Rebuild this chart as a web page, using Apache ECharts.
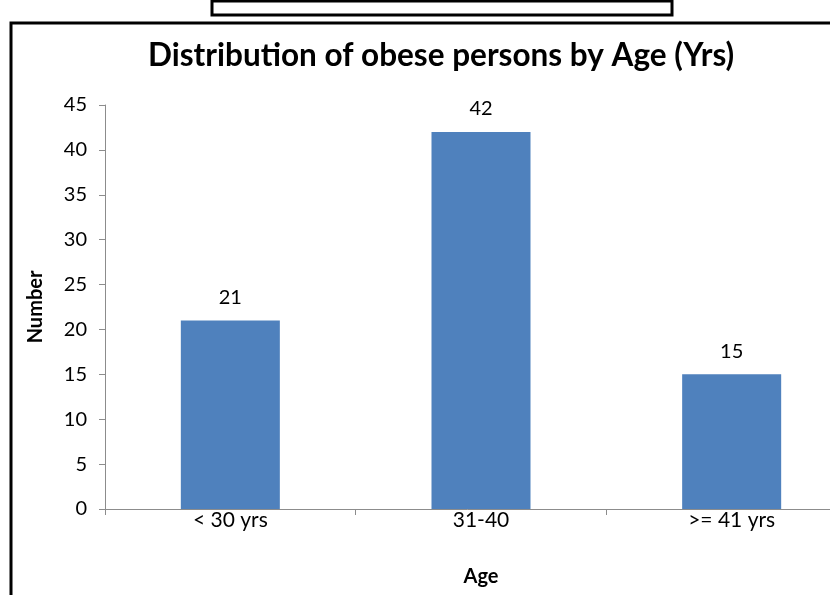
<!DOCTYPE html>
<html>
<head>
<meta charset="utf-8">
<script src="https://cdn.jsdelivr.net/npm/echarts@6/dist/echarts.min.js"></script>
<style>
  html, body { margin: 0; padding: 0; background: #fff; }
  #chart { width: 830px; height: 595px; }
</style>
</head>
<body>
<div id="chart"></div>
<script>
// Obese persons counted in each age group
const ageGroups = ['< 30 yrs', '31-40', '>= 41 yrs'];
const obeseCounts = [21, 42, 15];
const yTicks = { min: 0, max: 45, step: 5 };

const FONT = 'Lato, "Open Sans", sans-serif';

const chart = echarts.init(document.getElementById('chart'), null, { renderer: 'canvas' });

chart.setOption({
  backgroundColor: '#ffffff',
  animation: false,
  title: {
    text: 'Distribution of obese persons by Age (Yrs)',
    left: 143,
    top: 35,
    textStyle: { fontFamily: FONT, fontSize: 31.5, fontWeight: 'bold', color: '#000' }
  },
  graphic: [
    // frame around the chart (left and top edges visible)
    {
      type: 'polyline',
      shape: { points: [[11, 600], [11, 23], [840, 23]] },
      style: { stroke: '#000', lineWidth: 3, fill: null }
    },
    // small box above the chart
    {
      type: 'rect',
      shape: { x: 212, y: 1, width: 460, height: 14 },
      style: { stroke: '#000', lineWidth: 3, fill: null }
    }
  ],
  // plot area runs past the right edge of the page
  grid: { left: 105, width: 752, top: 105, bottom: 86, outerBoundsMode: 'none', containLabel: false },
  xAxis: {
    type: 'category',
    data: ageGroups,
    name: 'Age',
    nameLocation: 'middle',
    nameGap: 58,
    nameTextStyle: { fontFamily: FONT, fontSize: 20, fontWeight: 'bold', color: '#000' },
    axisLine: { lineStyle: { color: '#8c8c8c', width: 1 } },
    axisTick: { show: true, length: 6, lineStyle: { color: '#8c8c8c' } },
    axisLabel: { fontFamily: FONT, fontSize: 21, color: '#000', margin: 1 }
  },
  yAxis: {
    type: 'value',
    min: yTicks.min,
    max: yTicks.max,
    interval: yTicks.step,
    name: 'Number',
    nameLocation: 'middle',
    nameGap: 59,
    nameRotate: 90,
    nameTextStyle: { fontFamily: FONT, fontSize: 20, fontWeight: 'bold', color: '#000' },
    axisLine: { show: true, lineStyle: { color: '#8c8c8c', width: 1 } },
    axisTick: { show: true, length: 6, lineStyle: { color: '#8c8c8c' } },
    axisLabel: { fontFamily: FONT, fontSize: 20, color: '#000', margin: 18 },
    splitLine: { show: false }
  },
  series: [{
    type: 'bar',
    data: obeseCounts,
    barWidth: '39.5%',
    itemStyle: { color: '#4F81BD' },
    label: {
      show: true,
      position: 'top',
      distance: 13,
      fontFamily: FONT,
      fontSize: 20,
      color: '#000'
    }
  }]
});
</script>
</body>
</html>
